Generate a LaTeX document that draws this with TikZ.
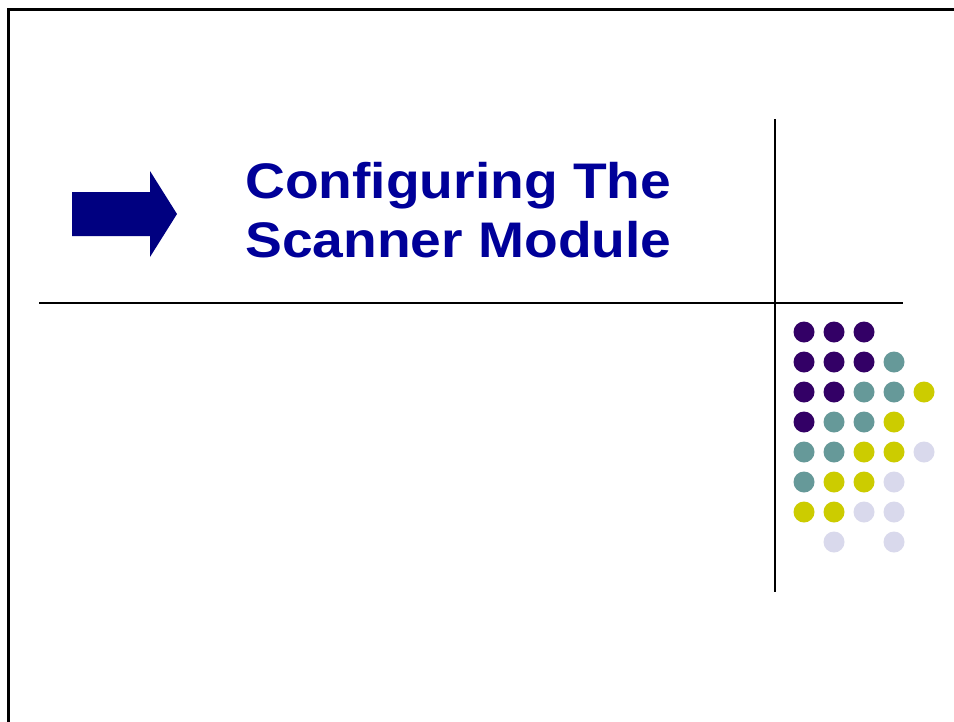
\documentclass[tikz,border=0pt]{standalone}
\usepackage{fontspec}
\usepackage{graphicx}
\setmainfont{Liberation Sans}
\definecolor{titleblue}{HTML}{000099}
\definecolor{arrowblue}{HTML}{000080}
\definecolor{dpurple}{HTML}{330066}
\definecolor{dteal}{HTML}{669999}
\definecolor{dyellow}{HTML}{CCCC00}
\definecolor{dlav}{HTML}{D9D9EC}
\newcommand{\widetitle}[1]{\scalebox{1.104}[1]{#1}}
\tikzset{
  titletext/.style={anchor=base west, inner sep=0pt, text=titleblue, font=\fontsize{50}{60}\selectfont\bfseries},
  rule/.style={line width=2pt, black},
  dot/.style={circle, minimum size=21pt, inner sep=0pt}
}
\begin{document}
\begin{tikzpicture}[x=1pt,y=-1pt]
\useasboundingbox (0,0) rectangle (954,721);
\fill[white] (0,0) rectangle (954,721);
% frame
\draw[line width=2.6pt] (8.5,740) -- (8.5,9.5) -- (970,9.5);
% arrow
\fill[arrowblue] (72,192) -- (150,192) -- (150,171) -- (177,214) -- (150,257) -- (150,236) -- (72,236) -- cycle;
% title
\node[titletext] (t1) at (245,198) {\widetitle{Configuring The}};
\node[titletext] (t2) at (245,257.5) {\widetitle{Scanner Module}};
% rules
\coordinate (vtop) at (775,119);
\coordinate (vbot) at (775,592);
\coordinate (hl) at (39,302.5);
\coordinate (hr) at (903,302.5);
\draw[rule] (vtop) -- (vbot);
\draw[rule] (hl) -- (hr);
% dots
\foreach \c/\x/\y in {
 dpurple/0/0, dpurple/1/0, dpurple/2/0,
 dpurple/0/1, dpurple/1/1, dpurple/2/1, dteal/3/1,
 dpurple/0/2, dpurple/1/2, dteal/2/2, dteal/3/2, dyellow/4/2,
 dpurple/0/3, dteal/1/3, dteal/2/3, dyellow/3/3,
 dteal/0/4, dteal/1/4, dyellow/2/4, dyellow/3/4, dlav/4/4,
 dteal/0/5, dyellow/1/5, dyellow/2/5, dlav/3/5,
 dyellow/0/6, dyellow/1/6, dlav/2/6, dlav/3/6,
 dlav/1/7, dlav/3/7}
 \node[dot, fill=\c] (d\x\y) at (804+30*\x, 332+30*\y) {};
\end{tikzpicture}
\end{document}
